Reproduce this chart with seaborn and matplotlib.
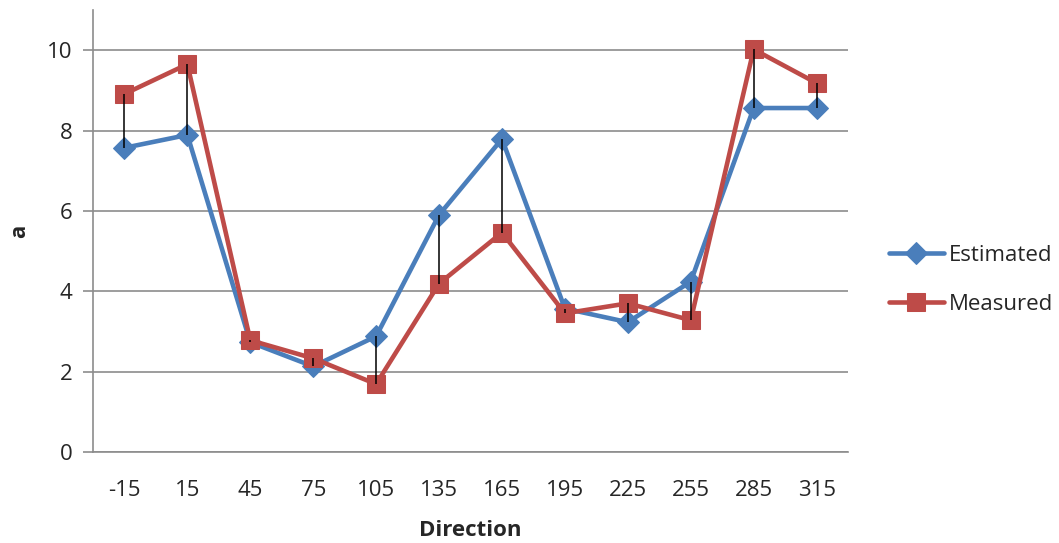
import matplotlib
matplotlib.use("Agg")
import matplotlib.pyplot as plt
import seaborn as sns
import pandas as pd

# Direction categories and the two series
directions = ["-15", "15", "45", "75", "105", "135", "165", "195", "225", "255", "285", "315"]
estimated = [7.57, 7.89, 2.73, 2.13, 2.88, 5.90, 7.79, 3.57, 3.23, 4.24, 8.56, 8.56]
measured = [8.91, 9.65, 2.78, 2.33, 1.69, 4.19, 5.46, 3.45, 3.70, 3.28, 10.02, 9.18]

sns.set_theme(style="white")
plt.rcParams["font.family"] = ["Open Sans", "DejaVu Sans"]

pos = list(range(len(directions)))
df = pd.DataFrame({"pos": pos, "Estimated": estimated, "Measured": measured})

fig = plt.figure(figsize=(10.59, 5.43), dpi=100)
ax = fig.add_axes([0.0878, 0.1676, 0.7130, 0.8140])

grid_c = "#8c8c8c"
blue = "#4A7EBB"
red = "#BE4B48"
txt_c = "#262626"
fs = 16

sns.lineplot(data=df, x="pos", y="Estimated", ax=ax, color=blue, lw=3.3,
             marker="D", markersize=11, markeredgecolor=blue, label="Estimated", zorder=3)
sns.lineplot(data=df, x="pos", y="Measured", ax=ax, color=red, lw=3.3,
             marker="s", markersize=12.5, markeredgecolor=red, label="Measured", zorder=4)

# high-low connectors between the series
lo = [min(e, m) for e, m in zip(estimated, measured)]
hi = [max(e, m) for e, m in zip(estimated, measured)]
ax.vlines(pos, lo, hi, colors="black", lw=1.1, zorder=5)

ax.set_xlim(-0.5, len(directions) - 0.5)
ax.set_ylim(0, 11)
ax.set_yticks(range(0, 11, 2))
ax.set_xticks(pos)
ax.set_xticklabels(directions)
ax.yaxis.grid(True, color=grid_c, lw=1.2)
ax.set_axisbelow(True)

for s in ["top", "right"]:
    ax.spines[s].set_visible(False)
for s in ["left", "bottom"]:
    ax.spines[s].set_color(grid_c)
    ax.spines[s].set_linewidth(1.2)

ax.tick_params(axis="y", length=7, width=1.2, color=grid_c, left=True, labelsize=fs, pad=8, labelcolor=txt_c)
ax.tick_params(axis="x", length=0, labelsize=fs, pad=20, labelcolor=txt_c)

ax.set_xlabel("Direction", fontsize=fs, fontweight="bold", labelpad=14, color=txt_c)
ax.set_ylabel("a", fontsize=fs, fontweight="bold", labelpad=12, color=txt_c)

ax.legend(loc="center left", bbox_to_anchor=(1.028, 0.39), frameon=False,
          fontsize=fs, handlelength=2.45, handletextpad=0.25, labelspacing=1.25,
          labelcolor=txt_c, borderaxespad=0.5)

fig.savefig("out.png", dpi=100)
